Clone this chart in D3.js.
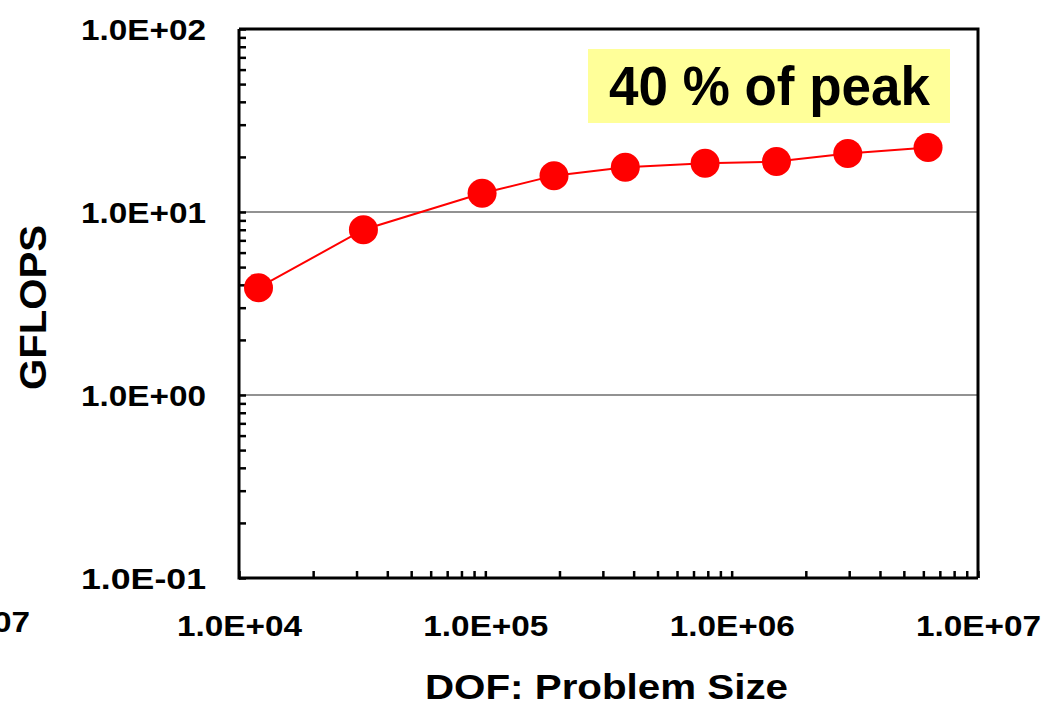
<!DOCTYPE html>
<html>
<head>
<meta charset="utf-8">
<script src="https://cdn.jsdelivr.net/npm/d3@7"></script>
<style>
  body { margin: 0; background: #fff; }
  svg text { font-family: "Liberation Sans", Arial, sans-serif; font-weight: bold; fill: #000; }
</style>
</head>
<body>
<div id="graph"></div>
<script>
const dof = [1.2e4, 3.2e4, 9.7e4, 1.9e5, 3.7e5, 7.8e5, 1.52e6, 2.96e6, 6.27e6];
const gflops = [3.86, 8.0, 12.65, 15.8, 17.55, 18.45, 18.85, 20.9, 22.5];

// Major tick values and their labels
const xMajor = [1e4, 1e5, 1e6, 1e7];
const xTickLabels = ["1.0E+04", "1.0E+05", "1.0E+06", "1.0E+07"];
const yMajor = [0.1, 1, 10, 100];
const yTickLabels = ["1.0E-01", "1.0E+00", "1.0E+01", "1.0E+02"];

const noteText = "40 % of peak";

var W = 1046, H = 704;
var margins = {top: 29, right: 68, bottom: 126, left: 239};
var graphWidth = W - margins.left - margins.right;
var graphHeight = H - margins.top - margins.bottom;

var root = d3.select('#graph').append('svg')
  .attr('width', W)
  .attr('height', H);

var svg = root.append('g')
  .attr('transform', 'translate(' + margins.left + ',' + margins.top + ')');

const x = d3.scaleLog().domain([1e4, 1e7]).range([0, graphWidth]);
const y = d3.scaleLog().domain([0.1, 100]).range([graphHeight, 0]);

// minor ticks 1..9 per decade
function decadeTicks(lo, hi) {
  var out = [];
  for (var e = Math.log10(lo); e < Math.log10(hi); e++) {
    for (var k = 1; k <= 9; k++) out.push(k * Math.pow(10, e));
  }
  out.push(hi);
  return out;
}
function isMajor(v, majors) {
  return majors.some(m => Math.abs(v / m - 1) < 1e-9);
}

// gridlines at 1 and 10
svg.selectAll('.grid')
  .data(yMajor.filter(v => v > 0.1 && v < 100))
  .enter().append('line')
  .attr('x1', 0).attr('x2', graphWidth)
  .attr('y1', d => y(d)).attr('y2', d => y(d))
  .attr('stroke', '#6e6e6e')
  .attr('stroke-width', 1.3);

// top and right frame
svg.append('path')
  .attr('d', 'M0,' + y(100) + 'H' + graphWidth + 'V' + graphHeight)
  .attr('fill', 'none')
  .attr('stroke', '#000')
  .attr('stroke-width', 3);

// x axis (ticks point inward)
var xAxis = svg.append('g')
  .attr('transform', 'translate(0,' + graphHeight + ')')
  .call(d3.axisBottom(x)
    .tickValues(decadeTicks(1e4, 1e7))
    .tickSize(-7)
    .tickPadding(37)
    .tickFormat(d => isMajor(d, xMajor) ? xTickLabels[xMajor.findIndex(m => Math.abs(d / m - 1) < 1e-9)] : ''));

// y axis (ticks point inward)
var yAxis = svg.append('g')
  .call(d3.axisLeft(y)
    .tickValues(decadeTicks(0.1, 100))
    .tickSize(-7)
    .tickPadding(33)
    .tickFormat(d => isMajor(d, yMajor) ? yTickLabels[yMajor.findIndex(m => Math.abs(d / m - 1) < 1e-9)] : ''));

[xAxis, yAxis].forEach(function(ax) {
  ax.select('.domain').attr('stroke', '#000').attr('stroke-width', 3);
  ax.selectAll('.tick line').attr('stroke', '#000').attr('stroke-width', 2.5);
  ax.selectAll('.tick text')
    .attr('font-family', '"Liberation Sans", Arial, sans-serif')
    .attr('font-weight', 'bold')
    .attr('font-size', 29)
    .attr('fill', '#000')
    .filter(function() { return this.textContent !== ''; })
    .attr('textLength', 125)
    .attr('lengthAdjust', 'spacingAndGlyphs');
});
yAxis.selectAll('.tick text').attr('dy', '0.37em');
// x axis domain has outer ticks from d3 - flatten them
xAxis.select('.domain').attr('d', 'M0,0H' + graphWidth);
yAxis.select('.domain').attr('d', 'M0,0V' + (graphHeight + 1.5));

// data line
svg.append('path')
  .datum(dof.map((d, i) => [d, gflops[i]]))
  .attr('fill', 'none')
  .attr('stroke', '#ff0000')
  .attr('stroke-width', 2)
  .attr('d', d3.line().x(d => x(d[0])).y(d => y(d[1])));

// markers
svg.selectAll('.dot')
  .data(dof.map((d, i) => [d, gflops[i]]))
  .enter().append('circle')
  .attr('cx', d => x(d[0]))
  .attr('cy', d => y(d[1]))
  .attr('r', 14.5)
  .attr('fill', '#ff0000');

// note box
root.append('rect')
  .attr('x', 588).attr('y', 49)
  .attr('width', 362).attr('height', 74)
  .attr('fill', '#ffff99');
root.append('text')
  .attr('x', 769.5).attr('y', 105)
  .attr('text-anchor', 'middle')
  .attr('font-size', 56)
  .attr('textLength', 321)
  .attr('lengthAdjust', 'spacingAndGlyphs')
  .text(noteText);

// axis titles
root.append('text')
  .attr('x', 606.5).attr('y', 699)
  .attr('text-anchor', 'middle')
  .attr('font-size', 35)
  .attr('textLength', 363)
  .attr('lengthAdjust', 'spacingAndGlyphs')
  .text('DOF: Problem Size');

root.append('text')
  .attr('transform', 'translate(46,307.5) rotate(-90)')
  .attr('text-anchor', 'middle')
  .attr('font-size', 36)
  .attr('textLength', 165)
  .attr('lengthAdjust', 'spacingAndGlyphs')
  .text('GFLOPS');

// leftover label from the neighbouring chart, cut at the page edge
root.append('text')
  .attr('x', 30).attr('y', 632)
  .attr('text-anchor', 'end')
  .attr('font-size', 29)
  .attr('textLength', 125)
  .attr('lengthAdjust', 'spacingAndGlyphs')
  .text(xTickLabels[3]);
</script>
</body>
</html>
